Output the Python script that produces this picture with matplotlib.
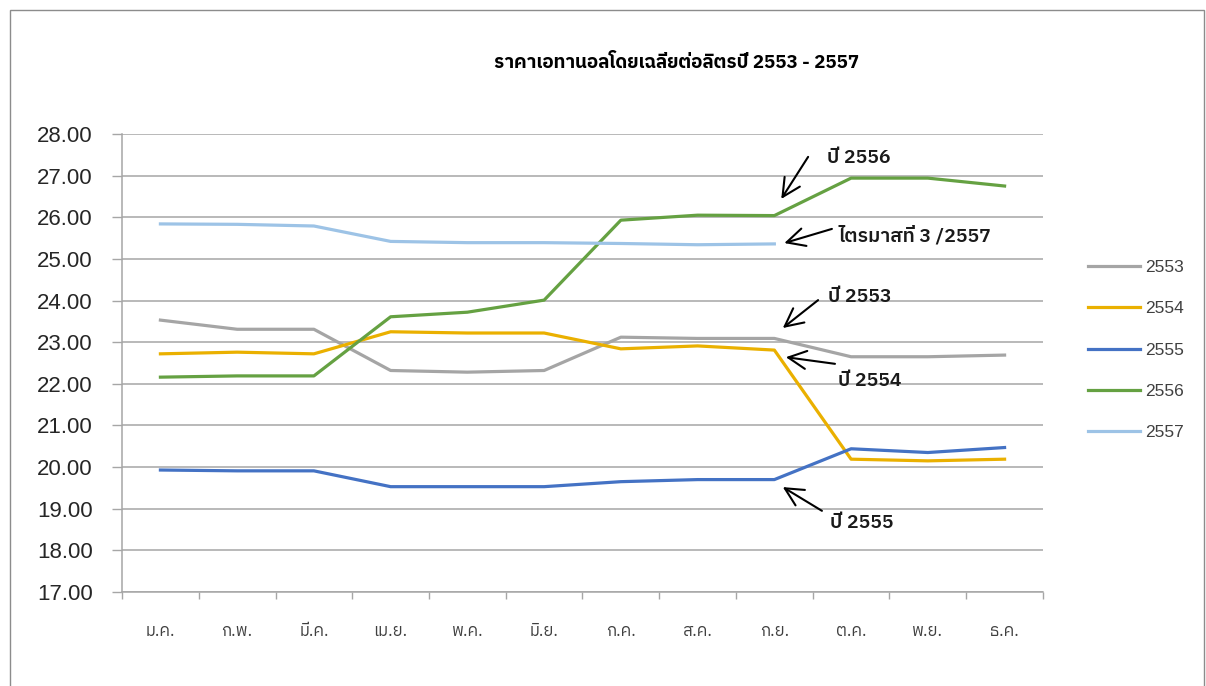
import matplotlib
matplotlib.use('Agg')
import matplotlib.pyplot as plt
from matplotlib.patches import Rectangle

# monthly average ethanol price (baht / litre)
months = ['ม.ค.', 'ก.พ.', 'มี.ค.', 'เม.ย.', 'พ.ค.', 'มิ.ย.',
          'ก.ค.', 'ส.ค.', 'ก.ย.', 'ต.ค.', 'พ.ย.', 'ธ.ค.']
years = ['2553', '2554', '2555', '2556', '2557']
p2553 = [23.53, 23.31, 23.31, 22.32, 22.28, 22.32, 23.12, 23.09, 23.09, 22.65, 22.65, 22.69]
p2554 = [22.72, 22.76, 22.72, 23.25, 23.22, 23.22, 22.84, 22.91, 22.81, 20.19, 20.15, 20.19]
p2555 = [19.93, 19.91, 19.91, 19.53, 19.53, 19.53, 19.65, 19.70, 19.70, 20.44, 20.35, 20.47]
p2556 = [22.16, 22.19, 22.19, 23.61, 23.72, 24.01, 25.93, 26.05, 26.04, 26.94, 26.94, 26.75]
p2557 = [25.84, 25.83, 25.79, 25.42, 25.39, 25.39, 25.37, 25.34, 25.36]
yticks = [17, 18, 19, 20, 21, 22, 23, 24, 25, 26, 27, 28]

colors = ['#A5A5A5', '#EAB000', '#4472C4', '#65A142', '#9DC3E6']
thai = ['IBM Plex Sans Thai', 'DejaVu Sans']
latin = ['Liberation Sans', 'DejaVu Sans']

fig = plt.figure(figsize=(12.06, 6.86), dpi=100)
ax = fig.add_axes([0.1012, 0.137, 0.7636, 0.6677])

series = [p2553, p2554, p2555, p2556, p2557]
for name, vals, c in zip(years, series, colors):
    ax.plot(range(len(vals)), vals, color=c, lw=2.3, label=name)

ax.set_xlim(-0.5, len(months) - 0.5)
ax.set_ylim(yticks[0], yticks[-1])
ax.set_yticks(yticks)
ax.set_yticklabels([f'{v:.2f}' for v in yticks])
ax.set_xticks(range(len(months)))
ax.set_xticklabels(months, family=thai, fontsize=12, color='#404040')
ax.set_xticks([i - 0.5 for i in range(len(months) + 1)], minor=True)
ax.tick_params(axis='x', which='major', length=0, pad=22)
ax.tick_params(axis='x', which='minor', length=5, color='#A6A6A6', width=1)
ax.tick_params(axis='y', length=7, color='#A6A6A6', width=1, pad=14,
               labelsize=16, labelcolor='#262626')
for lab in ax.get_yticklabels():
    lab.set_family(latin)
ax.grid(axis='y', color='#A6A6A6', lw=1.1)
ax.set_axisbelow(True)
for s in ['top', 'right']:
    ax.spines[s].set_visible(False)
for s in ['left', 'bottom']:
    ax.spines[s].set_color('#A6A6A6')
    ax.spines[s].set_linewidth(1.1)

fig.text(0.5613, 0.908, 'ราคาเอทานอลโดยเฉลี่ยต่อลิตรปี 2553 - 2557',
         ha='center', va='center', fontsize=13.5, fontweight='bold', family=thai)

# hand drawn callouts
notes = [
    ('ปี 2556', (8.09, 26.44), (8.44, 27.45), (8.69, 27.42)),
    ('ไตรมาสที่ 3 /2557', (8.13, 25.38), (8.75, 25.72), (8.83, 25.55)),
    ('ปี 2553', (8.11, 23.34), (8.57, 24.01), (8.70, 24.09)),
    ('ปี 2554', (8.15, 22.64), (8.79, 22.48), (8.83, 22.07)),
    ('ปี 2555', (8.11, 19.52), (8.62, 18.95), (8.72, 18.66)),
]
for txt, tip, tail, pos in notes:
    ax.annotate('', xy=tip, xytext=tail,
                arrowprops=dict(arrowstyle='->,head_length=1.3,head_width=0.65',
                                color='black', lw=1.5, shrinkA=0, shrinkB=0))
    ax.text(pos[0], pos[1], txt, ha='left', va='center', fontsize=14,
            fontweight='semibold', family=thai, color='#1A1A1A')

leg = ax.legend(loc='center left', bbox_to_anchor=(1088 / 1206, 1 - 350 / 686),
                bbox_transform=fig.transFigure, frameon=False,
                handlelength=3.0, handletextpad=0.3, labelspacing=1.5,
                borderpad=0, borderaxespad=0, prop={'family': latin, 'size': 12.5})
for t in leg.get_texts():
    t.set_color('#404040')

# outer chart border
fig.patches.append(Rectangle((10 / 1206, -0.02), 1194 / 1206, 1 - 10 / 686 + 0.02,
                             transform=fig.transFigure, fill=False,
                             edgecolor='#8C8C8C', lw=1.0))

fig.savefig('out.png', dpi=100, facecolor='white')
